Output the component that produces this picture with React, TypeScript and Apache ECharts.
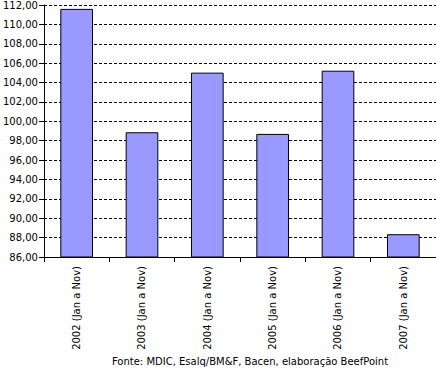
import React, { useEffect, useRef } from "react";
import * as echarts from "echarts";

const categories = [
  "2002 (Jan a Nov)",
  "2003 (Jan a Nov)",
  "2004 (Jan a Nov)",
  "2005 (Jan a Nov)",
  "2006 (Jan a Nov)",
  "2007 (Jan a Nov)",
];
const values = [111.6, 98.87, 105.02, 98.7, 105.22, 88.35];
const sourceText = "Fonte: MDIC, Esalq/BM&F, Bacen, elaboração BeefPoint";

const FONT = "DejaVu Sans, Verdana, sans-serif";

export default function App() {
  const ref = useRef<HTMLDivElement>(null);
  useEffect(() => {
    document.body.style.margin = "0";
    const chart = echarts.init(ref.current!, null, { renderer: "svg" });
    chart.setOption({
      animation: false,
      backgroundColor: "#ffffff",
      title: {
        text: sourceText,
        left: 245,
        textAlign: "center",
        top: 351,
        textStyle: { fontFamily: FONT, fontSize: 10, fontWeight: "normal", color: "#000" },
      },
      grid: { left: 42, right: 0, top: 3, bottom: 112, containLabel: false },
      xAxis: {
        type: "category",
        data: categories,
        boundaryGap: true,
        axisLine: { lineStyle: { color: "#000", width: 1 } },
        axisTick: { show: true, length: 5, interval: 0, lineStyle: { color: "#000" } },
        axisLabel: {
          interval: 0,
          rotate: 90,
          margin: 9,
          fontFamily: FONT,
          fontSize: 10,
          color: "#000",
        },
      },
      yAxis: {
        type: "value",
        min: 86,
        max: 112,
        interval: 2,
        axisLine: { show: true, lineStyle: { color: "#000", width: 1 } },
        axisTick: { show: true, length: 5, lineStyle: { color: "#000" } },
        axisLabel: {
          margin: 6,
          fontFamily: FONT,
          fontSize: 10,
          color: "#000",
          formatter: (v: number) => v.toFixed(2).replace(".", ","),
        },
        splitLine: {
          show: true,
          lineStyle: { color: "#000", type: [3, 2], width: 1 },
        },
      },
      series: [
        {
          type: "bar",
          data: values,
          barWidth: "50%",
          itemStyle: { color: "#9999FF", borderColor: "#000", borderWidth: 1 },
        },
      ],
    });
    return () => chart.dispose();
  }, []);
  return <div ref={ref} style={{ width: 436, height: 369 }} />;
}
